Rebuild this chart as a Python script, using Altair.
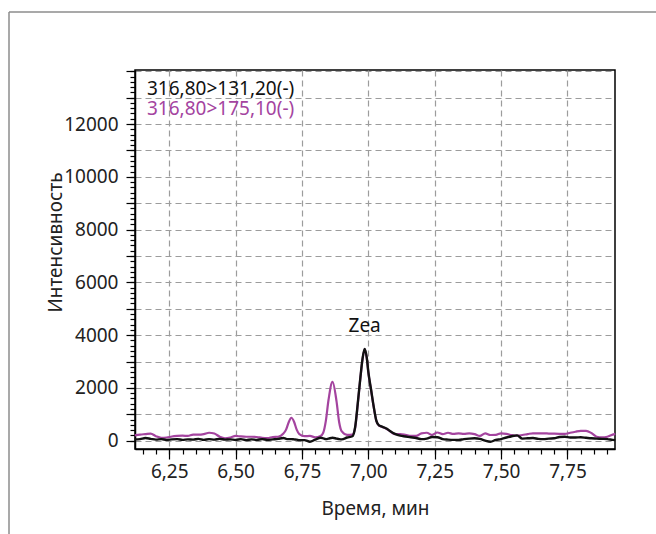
import altair as alt
import pandas as pd

# Retention time (min) and detector counts for the two MRM transitions
times = [
    6.12, 6.14, 6.16, 6.18, 6.20, 6.22, 6.24, 6.26, 6.28, 6.30,
    6.32, 6.34, 6.36, 6.38, 6.40, 6.42, 6.44, 6.46, 6.48, 6.50,
    6.52, 6.54, 6.56, 6.58, 6.60, 6.62, 6.64, 6.66, 6.68, 6.69,
    6.70, 6.71, 6.72, 6.73, 6.74, 6.76, 6.78, 6.80, 6.82, 6.83,
    6.84, 6.85, 6.865, 6.88, 6.89, 6.90, 6.92, 6.94, 6.95, 6.96,
    6.97, 6.978, 6.986, 6.994, 7.00, 7.01, 7.02, 7.03, 7.04, 7.05,
    7.06, 7.07, 7.08, 7.10, 7.12, 7.14, 7.16, 7.18, 7.20, 7.22,
    7.24, 7.26, 7.28, 7.30, 7.32, 7.34, 7.36, 7.38, 7.40, 7.42,
    7.44, 7.46, 7.48, 7.50, 7.52, 7.54, 7.56, 7.58, 7.60, 7.62,
    7.64, 7.66, 7.68, 7.70, 7.72, 7.74, 7.76, 7.78, 7.80, 7.82,
    7.84, 7.86, 7.88, 7.90, 7.92, 7.93,
]
black_counts = [
    50, 60, 100, 70, 40, 60, 30, 50, 60, 30,
    50, 40, 70, 30, 60, 40, 70, 40, 50, 30,
    60, 20, 50, 30, 60, 30, 50, 70, 100, 70,
    60, 60, 50, 40, 20, 20, -40, 40, 110, 90,
    60, 80, 110, 80, 60, 50, 120, 170, 500, 1400,
    2400, 3100, 3480, 3150, 2600, 1950, 1300, 760, 580, 540,
    500, 450, 380, 260, 190, 160, 130, 100, 60, 80,
    140, 130, 60, 40, 30, 30, 60, 80, 90, 70,
    0, -40, 30, 60, 120, 170, 200, 80, 90, 100,
    70, 60, 80, 90, 140, 150, 120, 120, 130, 110,
    90, 80, 70, 60, 30, 20,
]
magenta_counts = [
    200, 230, 250, 270, 170, 110, 120, 160, 180, 190,
    180, 230, 230, 250, 300, 270, 150, 90, 120, 180,
    160, 150, 150, 140, 110, 100, 140, 150, 270, 420,
    700, 870, 720, 420, 250, 170, 180, 130, 180, 300,
    760, 1550, 2230, 1500, 700, 350, 220, 230, 480, 1380,
    2380, 3080, 3460, 3130, 2580, 1930, 1280, 750, 570, 530,
    490, 440, 370, 250, 250, 220, 180, 180, 280, 300,
    220, 310, 250, 300, 255, 280, 255, 280, 250, 180,
    280, 215, 220, 280, 260, 210, 190, 215, 250, 280,
    280, 280, 270, 265, 260, 255, 300, 340, 370, 370,
    290, 150, 130, 150, 230, 260,
]

series_names = ["316,80>131,20(-)", "316,80>175,10(-)"]
series_colors = ["#111111", "#a4449f"]

peak_names = ["Zea"]
peak_times = [6.986]
peak_heights = [3480]

x_major = [6.25, 6.50, 6.75, 7.00, 7.25, 7.50, 7.75]
x_minor = [round(6.15 + 0.05 * i, 2) for i in range(36)]
y_major = list(range(0, 14001, 1000))
y_minor = list(range(0, 14001, 200))

FONT = "Noto Sans"

rows = []
for t, b, m in zip(times, black_counts, magenta_counts):
    rows.append({"t": t, "v": b, "s": series_names[0]})
    rows.append({"t": t, "v": m, "s": series_names[1]})
df = pd.DataFrame(rows)
peaks = pd.DataFrame({"name": peak_names, "t": peak_times, "v": peak_heights})

x_scale = alt.Scale(domain=[6.121, 7.929], nice=False, zero=False)
y_scale = alt.Scale(domain=[-315, 14047], nice=False, zero=False)
color_scale = alt.Scale(domain=series_names, range=series_colors)

x_axis_major = alt.Axis(
    orient="bottom", values=x_major, grid=True, tickSize=10, labelPadding=3,
    labelExpr="replace(format(datum.value, '.2f'), '.', ',')",
    title="Время, мин", titleX=240, titleY=65, titleBaseline="alphabetic",
)
y_axis_major = alt.Axis(
    orient="left", values=y_major, grid=True, tickSize=9, labelPadding=8,
    labelExpr="datum.value % 2000 == 0 && datum.value <= 12000 ? format(datum.value, 'd') : ''",
    title="Интенсивность", titleX=-74, titleY=172, titleAngle=270,
    titleBaseline="alphabetic", titleAlign="center",
)
x_axis_minor = alt.Axis(orient="bottom", values=x_minor, grid=False, tickSize=5,
                        labels=False, domain=False, title=None)
y_axis_minor = alt.Axis(orient="left", values=y_minor, grid=False, tickSize=5,
                        labels=False, domain=False, title=None)

legend = alt.Legend(
    orient="none", legendX=-13, legendY=9, title=None, padding=0,
    symbolSize=0, symbolStrokeWidth=0, symbolOpacity=0, labelOffset=6,
    labelFont=FONT, labelFontSize=19, rowPadding=-7,
    labelColor=alt.ExprRef(
        expr=f"datum.label == '{series_names[1]}' ? '{series_colors[1]}' : '{series_colors[0]}'"
    ),
)
color_enc = alt.Color("s:N", scale=color_scale, legend=legend)

magenta_line = (
    alt.Chart(df)
    .transform_filter(alt.datum.s == series_names[1])
    .mark_line(interpolate="monotone", strokeWidth=2.2)
    .encode(
        x=alt.X("t:Q", scale=x_scale, axis=x_axis_major),
        y=alt.Y("v:Q", scale=y_scale, axis=y_axis_major),
        color=color_enc,
    )
)
black_line = (
    alt.Chart(df)
    .transform_filter(alt.datum.s == series_names[0])
    .mark_line(interpolate="monotone", strokeWidth=2.4)
    .encode(
        x=alt.X("t:Q", scale=x_scale, axis=None),
        y=alt.Y("v:Q", scale=y_scale, axis=None),
        color=color_enc,
    )
)
minor_ticks = (
    alt.Chart(df)
    .mark_point(opacity=0)
    .encode(
        x=alt.X("t:Q", scale=x_scale, axis=x_axis_minor),
        y=alt.Y("v:Q", scale=y_scale, axis=y_axis_minor),
    )
)
peak_labels = (
    alt.Chart(peaks)
    .mark_text(font=FONT, fontSize=19, color="#111111", baseline="alphabetic", dy=-17)
    .encode(
        x=alt.X("t:Q", scale=x_scale, axis=None),
        y=alt.Y("v:Q", scale=y_scale, axis=None),
        text="name:N",
    )
)

# Thin grey page border at the top and left
one = pd.DataFrame({"k": [0]})
border_top = alt.Chart(one).mark_rule(color="#8c8c8c", strokeWidth=1.5).encode(
    x=alt.value(-126), x2=alt.value(530), y=alt.value(-58)
)
border_left = alt.Chart(one).mark_rule(color="#8c8c8c", strokeWidth=1.5).encode(
    x=alt.value(-126), y=alt.value(-58), y2=alt.value(470)
)

chart = (
    alt.layer(minor_ticks, magenta_line, black_line, peak_labels, border_top, border_left)
    .resolve_axis(x="independent", y="independent")
    .properties(
        width=480, height=379,
        padding={"left": 135, "top": 70, "right": 41, "bottom": 85},
        autosize=alt.AutoSizeParams(type="none"),
        background="white",
    )
    .configure_view(stroke="black", strokeWidth=1.5)
    .configure_axis(
        labelFont=FONT, labelFontSize=19, labelColor="#222222",
        titleFont=FONT, titleFontSize=19, titleFontWeight="normal", titleColor="#222222",
        tickColor="black", tickWidth=1.2, domainColor="black", domainWidth=1.5,
        gridColor="#9c9c9c", gridDash=[6, 4], gridWidth=1.2,
    )
)

chart.save("out.html", embed_options={"renderer": "svg", "actions": False})
